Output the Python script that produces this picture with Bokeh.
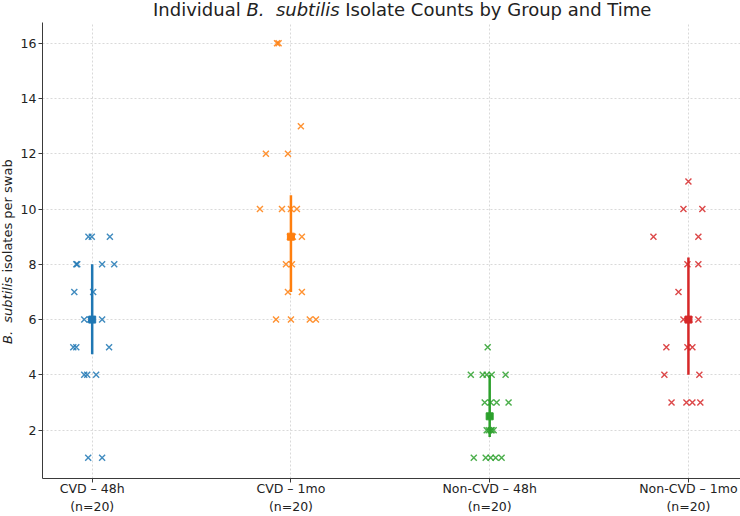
import numpy as np
from bokeh.plotting import figure
from bokeh.models import Range1d, FixedTicker, Div
from bokeh.layouts import column, row
from bokeh.embed import file_html
from bokeh.resources import INLINE

# ---- data ----
groups = ["CVD \u2013 48h", "CVD \u2013 1mo", "Non-CVD \u2013 48h", "Non-CVD \u2013 1mo"]
n_labels = ["(n=20)", "(n=20)", "(n=20)", "(n=20)"]
colors = ["#1f77b4", "#ff7f0e", "#2ca02c", "#d62728"]

cvd_48h = [9, 9, 9, 8, 8, 8, 8, 7, 7, 6, 6, 6, 5, 5, 5, 4, 4, 4, 1, 1]
cvd_48h_jit = [-0.019, -0.002, 0.089, -0.080, -0.075, 0.050, 0.111, -0.090, 0.005,
               -0.040, -0.010, 0.050, -0.095, -0.080, 0.085, -0.040, -0.025, 0.020, -0.020, 0.050]

cvd_1mo = [16, 16, 13, 12, 12, 10, 10, 10, 10, 9, 9, 9, 8, 8, 7, 7, 6, 6, 6, 6]
cvd_1mo_jit = [-0.070, -0.062, 0.050, -0.126, -0.015, -0.156, -0.045, 0.0, 0.030,
               -0.005, 0.010, 0.055, -0.025, 0.005, -0.015, 0.055, -0.075, 0.0, 0.095, 0.126]

non_48h = [5, 4, 4, 4, 4, 4, 3, 3, 3, 3, 2, 2, 2, 2, 2, 1, 1, 1, 1, 1]
non_48h_jit = [-0.010, -0.095, -0.035, -0.015, 0.010, 0.080, -0.025, 0.005, 0.035, 0.095,
               -0.015, -0.005, 0.005, 0.010, 0.020, -0.080, -0.020, 0.005, 0.030, 0.060]

non_1mo = [11, 10, 10, 9, 9, 8, 8, 7, 6, 6, 6, 5, 5, 5, 4, 4, 3, 3, 3, 3]
non_1mo_jit = [0.0, -0.025, 0.070, -0.176, 0.050, -0.005, 0.050, -0.050, -0.025, 0.005,
               0.050, -0.111, -0.005, 0.020, -0.121, 0.055, -0.085, -0.010, 0.020, 0.060]

series = [cvd_48h, cvd_1mo, non_48h, non_1mo]
jitters = [cvd_48h_jit, cvd_1mo_jit, non_48h_jit, non_1mo_jit]

W, H = 740, 516
TITLE_H = 22
YLAB_W = 17

p = figure(width=W - YLAB_W, height=H - TITLE_H, output_backend="svg", toolbar_location=None,
           x_range=Range1d(-0.25, 3.262), y_range=Range1d(0.25, 16.75),
           min_border_left=24, min_border_right=0, min_border_top=0, min_border_bottom=33)
p.outline_line_color = None
p.background_fill_color = "white"
p.border_fill_color = "white"

for i, (vals, jit) in enumerate(zip(series, jitters)):
    xs = [i + j for j in jit]
    p.scatter(xs, vals, marker="x", size=8.5, line_width=1.4, color=colors[i], alpha=0.85)
    q1, med, q3 = np.percentile(vals, [25, 50, 75])
    p.segment(x0=[i], y0=[q1], x1=[i], y1=[q3], line_color=colors[i], line_width=2.5)
    p.scatter([i], [med], marker="square", size=7, color=colors[i])

# axes
p.xaxis.ticker = FixedTicker(ticks=[0, 1, 2, 3])
p.xaxis.major_label_overrides = {i: f"{g}\n{n}" for i, (g, n) in enumerate(zip(groups, n_labels))}
p.yaxis.ticker = FixedTicker(ticks=[2, 4, 6, 8, 10, 12, 14, 16])
for ax in (p.xaxis, p.yaxis):
    ax.axis_line_color = "#3a3a3a"
    ax.axis_line_width = 1
    ax.major_tick_line_color = "#3a3a3a"
    ax.major_tick_out = 4
    ax.major_tick_in = 0
    ax.minor_tick_line_color = None
    ax.major_label_text_font = "DejaVu Sans"
    ax.major_label_text_font_size = "12.5px"
    ax.major_label_text_color = "#222222"
    ax.axis_label_standoff = 0
p.xaxis.major_label_standoff = -2
p.yaxis.major_label_standoff = 2

for g in (p.xgrid, p.ygrid):
    g.grid_line_color = "#cfcfcf"
    g.grid_line_dash = "2 2"
    g.grid_line_width = 0.8

font = "font-family:'DejaVu Sans'; color:#222222; white-space:nowrap;"
title = Div(
    text=f'<div style="{font} font-size:18px; line-height:20px; padding-left:153px;">'
         'Individual <i>B.&nbsp; subtilis</i> Isolate Counts by Group and Time</div>',
    width=W, height=TITLE_H, margin=0)

ylab = Div(
    text=f'<div style="{font} font-size:13px; line-height:16px; width:max-content; '
         f'transform-origin:0 0; transform:translate(0px, {344 - TITLE_H}px) rotate(-90deg);">'
         '<i>B.&nbsp; subtilis</i> isolates per swab</div>',
    width=YLAB_W, height=H - TITLE_H, margin=0)

layout = column(title, row(ylab, p, spacing=0), spacing=0)

open("out.html", "w").write(file_html(layout, INLINE))
